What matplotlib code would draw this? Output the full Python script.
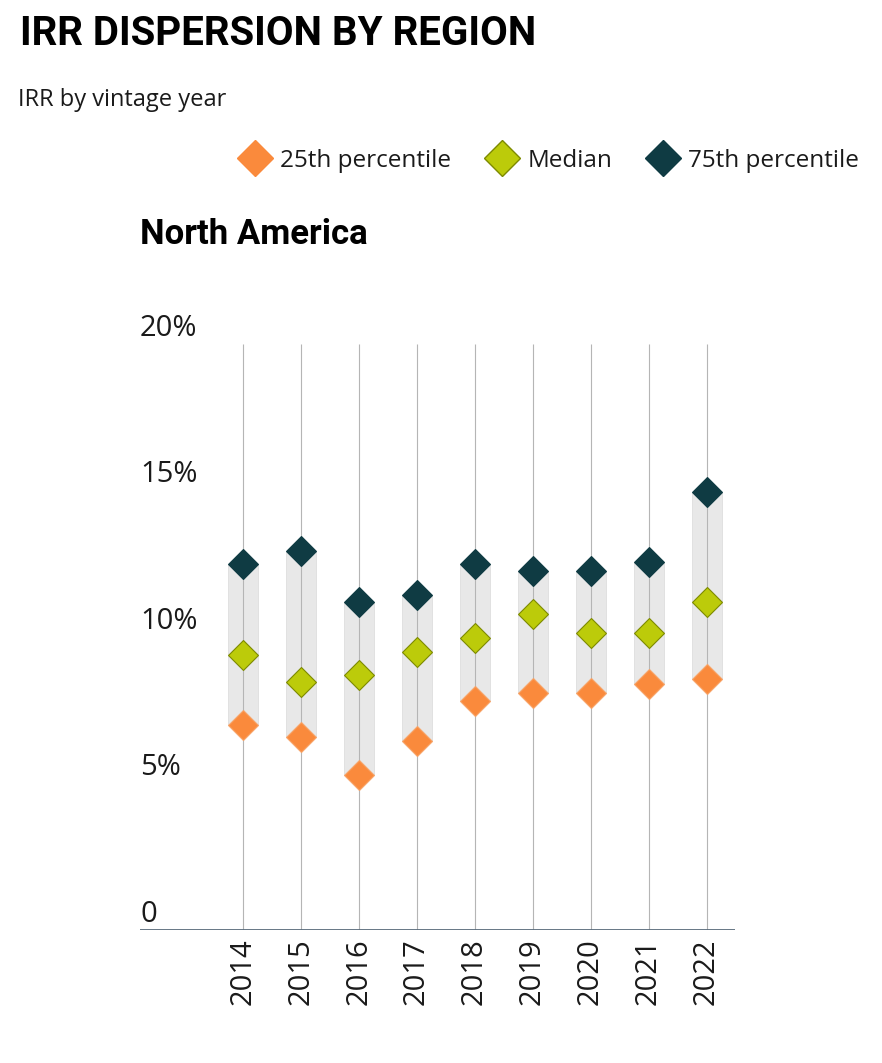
import matplotlib.pyplot as plt
from matplotlib.lines import Line2D
import numpy as np

# IRR by vintage year, North America (%)
years = ['2014', '2015', '2016', '2017', '2018', '2019', '2020', '2021', '2022']
p25 = [7.0, 6.6, 5.3, 6.45, 7.8, 8.1, 8.1, 8.4, 8.55]
median = [9.4, 8.45, 8.7, 9.5, 9.95, 10.8, 10.15, 10.15, 11.2]
p75 = [12.5, 12.95, 11.2, 11.45, 12.5, 12.25, 12.25, 12.55, 14.95]
yticks = [0, 5, 10, 15, 20]
ytick_labels = ['0', '5%', '10%', '15%', '20%']

c25 = '#fa8a3c'
cmed = '#bccb0a'
c75 = '#0f3b43'
txt = '#1a1a1a'
light = 'Open Sans'

fig = plt.figure(figsize=(8.82, 10.63), dpi=100)
ax = fig.add_axes([140 / 882, 1 - 930 / 1063, 595 / 882, 586 / 1063])

x = np.arange(len(years))

# grey range bars between quartiles
ax.bar(x, np.array(p75) - np.array(p25), bottom=p25, width=0.52,
       color='#e8e8e8', edgecolor='#dedede', linewidth=0.6, zorder=1)

# thin vertical guides
ax.vlines(x, 0, 20, color='#b5b5b5', linewidth=0.8, zorder=2)

ax.plot(x, p25, 'D', ms=15, color=c25, mec='#f7a56a', mew=0.8, zorder=3, linestyle='none')
ax.plot(x, median, 'D', ms=15, color=cmed, mec='#7d8a00', mew=0.8, zorder=3, linestyle='none')
ax.plot(x, p75, 'D', ms=15, color=c75, mec=c75, mew=0.8, zorder=3, linestyle='none')

ax.axhline(0, color='#5a6c7c', linewidth=1.3, zorder=4)

ax.set_xlim(-1.77, 8.49)
ax.set_ylim(0, 20)
for s in ax.spines.values():
    s.set_visible(False)
ax.set_yticks([])
ax.set_xticks(x)
ax.set_xticklabels(years, rotation=90, fontsize=21, family=light, color=txt)
ax.tick_params(axis='x', length=0, pad=6)

for v, lab in zip(yticks, ytick_labels):
    ax.text(0.0, v + 0.28, lab, transform=ax.get_yaxis_transform(),
            ha='left', va='baseline', fontsize=21, family=light, color=txt)

fig.text(20 / 882, 1 - 34 / 1063, 'IRR DISPERSION BY REGION', ha='left', va='center',
         fontsize=29, fontweight='bold', family='Roboto', color='black')
fig.text(18 / 882, 1 - 100 / 1063, 'IRR by vintage year', ha='left', va='center',
         fontsize=17, family=light, color=txt)
fig.text(140 / 882, 1 - 235 / 1063, 'North America', ha='left', va='center',
         fontsize=25, fontweight='bold', family='Roboto', color='black')

handles = [
    Line2D([], [], marker='D', ms=18, color=c25, linestyle='none'),
    Line2D([], [], marker='D', ms=18, color=cmed, mec='#7d8a00', linestyle='none'),
    Line2D([], [], marker='D', ms=18, color=c75, linestyle='none'),
]
fig.legend(handles, ['25th percentile', 'Median', '75th percentile'],
           loc='center right', bbox_to_anchor=(859 / 882, 1 - 161 / 1063), ncol=3,
           frameon=False, prop={'family': light, 'size': 17.5}, handletextpad=0.33,
           columnspacing=1.4, handlelength=1.4, labelcolor=txt, borderpad=0,
           borderaxespad=0)

fig.savefig('out.png', dpi=100, facecolor='white')
